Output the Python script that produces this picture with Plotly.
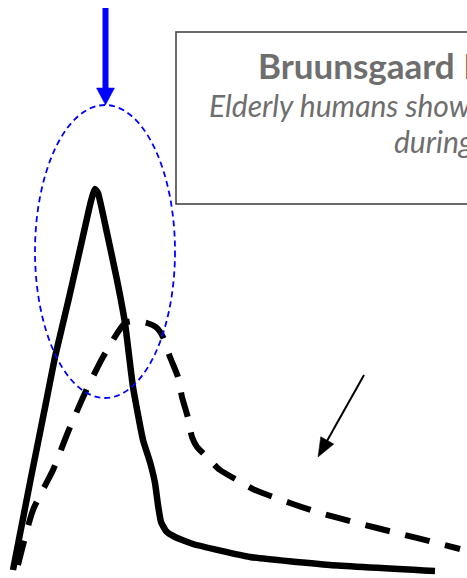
import plotly.graph_objects as go

W, H = 467, 578

# Solid curve (young) - x: time units, y: response units
solid_x = [13, 30.5, 46.5, 55, 68.5, 81, 90, 93, 95, 98, 107, 117, 125, 133, 143, 150, 155, 158, 161, 166, 175, 193, 250, 330, 435]
solid_y = [8, 98, 178, 221, 278, 333, 373, 384, 389, 385, 345, 298, 255, 191, 138, 116, 95, 73, 56, 47, 41, 34, 21, 13, 7]

# Dashed curve (elderly)
dashed_x = [18, 33, 53, 68, 85, 103, 125, 135, 147, 157, 163, 170, 178, 182, 188, 192, 197, 207, 220, 237, 255, 290, 317, 357, 397, 437, 460]
dashed_y = [13, 68, 108, 146, 185, 221, 255, 257, 255, 250, 241, 221, 201, 181, 160, 141, 131, 121, 108, 98, 88, 75, 66, 55, 45, 35, 29]

title_text = "Bruunsgaard H et al., J Infect Dis 1999"
line2_text = "Elderly humans show prolonged in vivo inflammatory activity"
line3_text = "during pneumococcal infections"

TEXT_GRAY = "#6e6e6e"
FONT = "Lato"

fig = go.Figure()
fig.add_trace(go.Scatter(x=solid_x, y=solid_y, mode="lines",
                         line=dict(color="black", width=6.5, shape="spline", smoothing=0.4),
                         hoverinfo="skip", showlegend=False))
fig.add_trace(go.Scatter(x=dashed_x, y=dashed_y, mode="lines",
                         line=dict(color="black", width=6, dash="25px,16px", shape="spline", smoothing=0.6),
                         hoverinfo="skip", showlegend=False))


def py(v):
    return H - v


shapes = []
# text box
shapes.append(dict(type="rect", xref="x", yref="y", x0=176, x1=480, y0=py(32), y1=py(204),
                   line=dict(color="#3a3a3a", width=1.5), fillcolor="rgba(0,0,0,0)", layer="below"))
# blue dashed ellipse
shapes.append(dict(type="circle", xref="x", yref="y", x0=35, x1=175, y0=py(105), y1=py(398),
                   line=dict(color="#0000ff", width=1.8, dash="6px,4px")))
# blue arrow shaft
shapes.append(dict(type="line", xref="x", yref="y", x0=105.5, x1=105.5, y0=py(8), y1=py(90),
                   line=dict(color="#0000ff", width=6)))
# blue arrow head
shapes.append(dict(type="path", xref="x", yref="y",
                   path=f"M 96.5 {py(88)} L 114.5 {py(88)} L 105.5 {py(105)} Z",
                   fillcolor="#0000ff", line=dict(color="#0000ff", width=0.5)))

# thin black arrow
tail = (364.0, 375.0)
tip = (318.0, 457.0)
dx, dy = tip[0] - tail[0], tip[1] - tail[1]
L = (dx * dx + dy * dy) ** 0.5
ux, uy = dx / L, dy / L
hl, hw = 19.0, 7.5
bx, by = tip[0] - hl * ux, tip[1] - hl * uy
px_, py_ = -uy, ux
p1 = (bx + hw * px_, by + hw * py_)
p2 = (bx - hw * px_, by - hw * py_)
shapes.append(dict(type="line", xref="x", yref="y", x0=tail[0], y0=py(tail[1]),
                   x1=bx + 3 * ux, y1=py(by + 3 * uy), line=dict(color="black", width=2)))
shapes.append(dict(type="path", xref="x", yref="y",
                   path=f"M {tip[0]} {py(tip[1])} L {p1[0]} {py(p1[1])} L {p2[0]} {py(p2[1])} Z",
                   fillcolor="black", line=dict(color="black", width=0.5)))

annotations = [
    dict(x=256, y=py(65), xref="x", yref="y", text=f"<b>{title_text}</b>", showarrow=False,
         xanchor="left", yanchor="middle", font=dict(family=FONT, size=35, color=TEXT_GRAY)),
    dict(x=207, y=py(105), xref="x", yref="y", text=f"<i>{line2_text}</i>", showarrow=False,
         xanchor="left", yanchor="middle", font=dict(family=FONT, size=30, color=TEXT_GRAY)),
    dict(x=392, y=py(141), xref="x", yref="y", text=f"<i>{line3_text}</i>", showarrow=False,
         xanchor="left", yanchor="middle", font=dict(family=FONT, size=30, color=TEXT_GRAY)),
]

fig.update_layout(
    width=W, height=H,
    margin=dict(l=0, r=0, t=0, b=0),
    paper_bgcolor="white", plot_bgcolor="white",
    xaxis=dict(range=[0, W], visible=False, fixedrange=True),
    yaxis=dict(range=[0, H], visible=False, fixedrange=True),
    shapes=shapes, annotations=annotations,
    showlegend=False,
)

fig.write_html("out.html", config={"displayModeBar": False},
               post_script="document.body.style.margin='0';document.body.style.overflow='hidden';")
